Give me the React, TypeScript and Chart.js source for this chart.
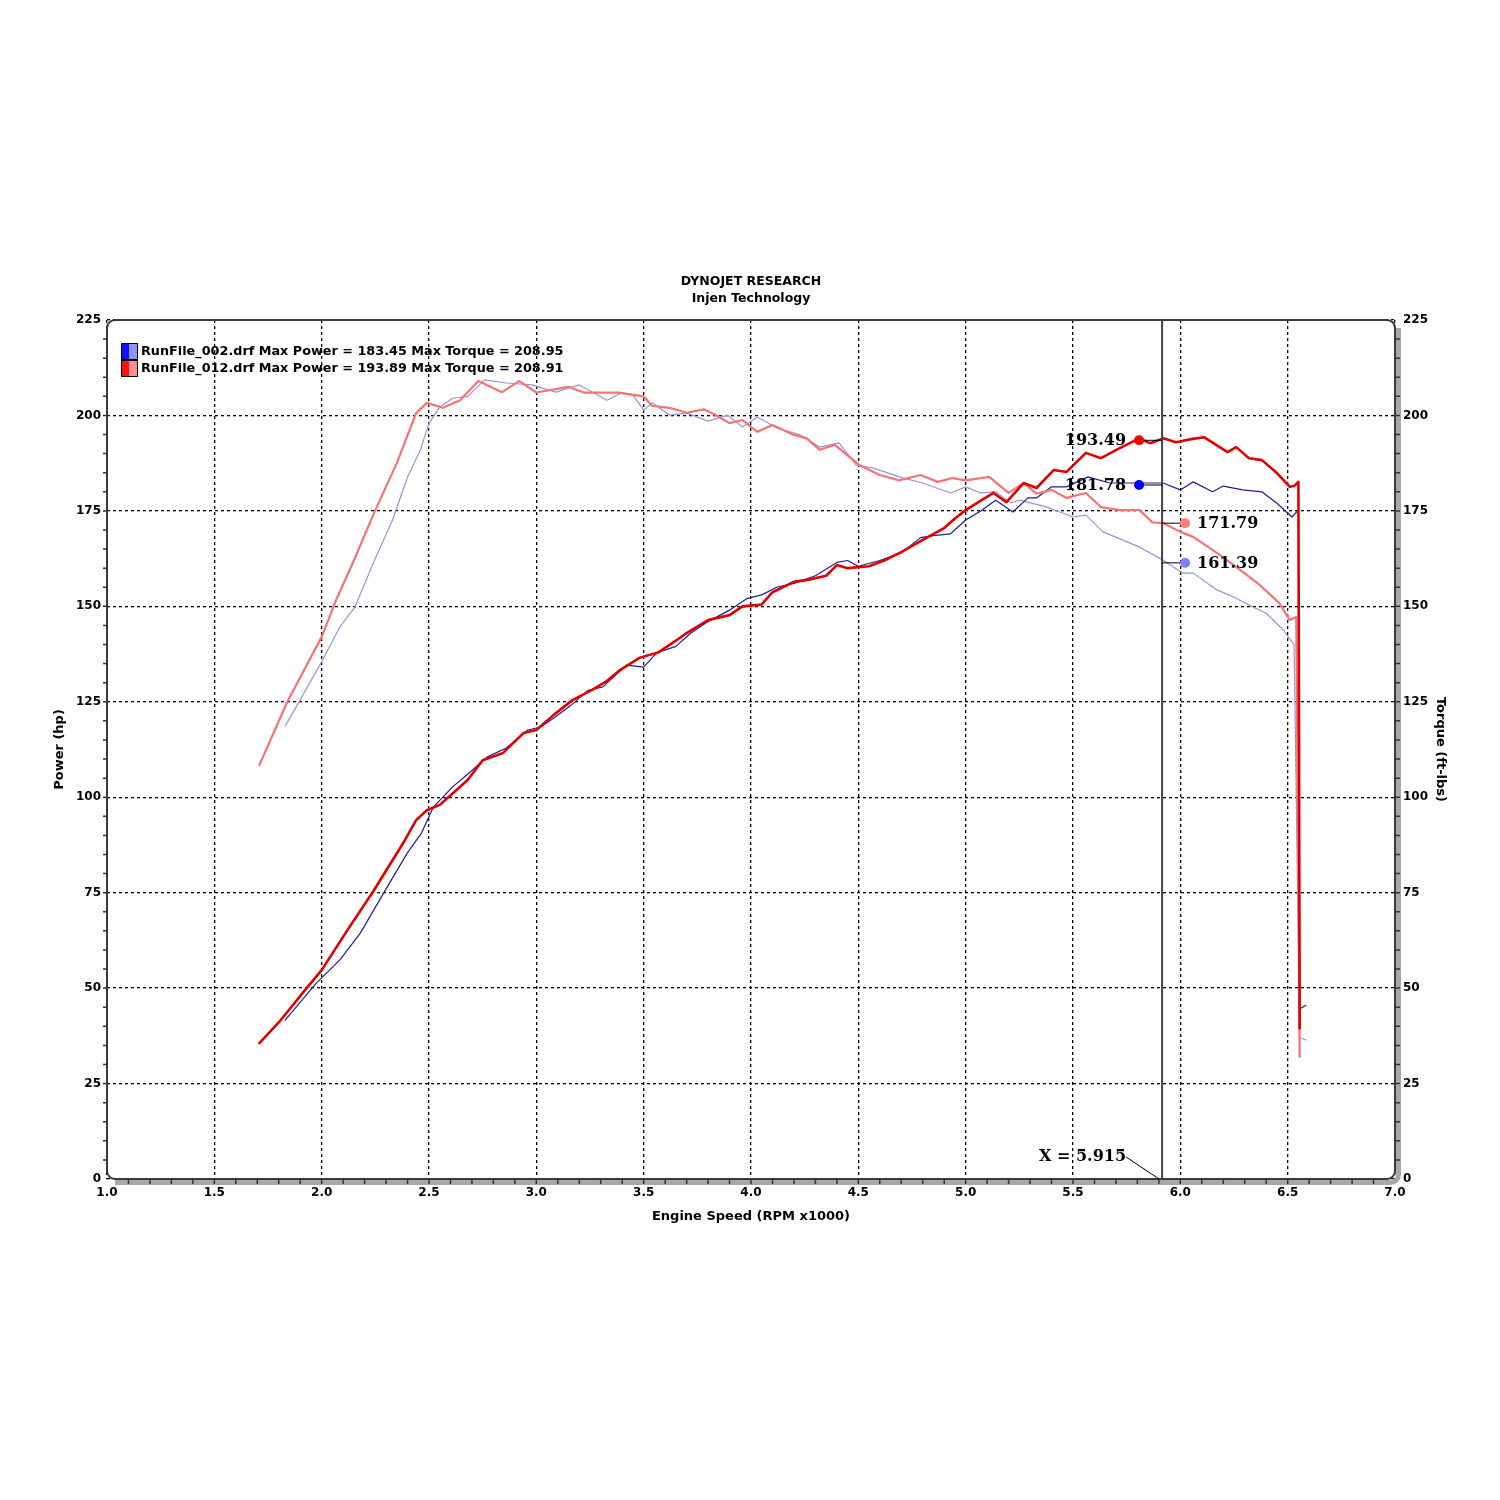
import { useEffect, useRef } from 'react';
import Chart from 'chart.js/auto';

// Run 012 power (hp) - red
const redPowerRpm = [1.71, 1.8, 1.93, 2.0, 2.12, 2.24, 2.38, 2.44, 2.49, 2.55, 2.61, 2.68, 2.75, 2.845, 2.94, 3.0, 3.08, 3.17, 3.26, 3.33, 3.39, 3.48, 3.57, 3.65, 3.7, 3.8, 3.9, 3.96, 4.05, 4.1, 4.2, 4.27, 4.35, 4.4, 4.45, 4.55, 4.62, 4.7, 4.8, 4.9, 4.95, 5.0, 5.08, 5.13, 5.19, 5.27, 5.33, 5.41, 5.47, 5.56, 5.63, 5.72, 5.81, 5.86, 5.92, 5.98, 6.05, 6.11, 6.22, 6.26, 6.32, 6.38, 6.45, 6.51, 6.53, 6.55, 6.556];
const redPowerHp = [35.6, 41, 50, 54.7, 65.2, 75.3, 88, 94, 96.6, 98, 101, 104.5, 109.7, 111.6, 116.8, 117.6, 121.5, 125.5, 128.1, 130.5, 133.3, 136.5, 138, 141, 143, 146.4, 147.7, 150, 150.5, 153.7, 156.4, 157, 158, 160.8, 160, 160.5, 162, 164.2, 167.4, 170.5, 173, 175.2, 178, 179.7, 177.3, 182.3, 181, 185.7, 185.2, 190.2, 188.8, 191.5, 194, 192.7, 194, 193, 193.8, 194.3, 190.4, 191.7, 188.8, 188.3, 184.9, 181.3, 181.5, 182.6, 39.5];

// Run 012 torque (ft-lbs) - pink
const redTorqueRpm = [1.71, 1.84, 2.0, 2.07, 2.15, 2.25, 2.35, 2.44, 2.49, 2.565, 2.645, 2.73, 2.84, 2.92, 3.0, 3.15, 3.22, 3.38, 3.5, 3.54, 3.62, 3.7, 3.78, 3.84, 3.9, 3.96, 4.03, 4.1, 4.2, 4.26, 4.32, 4.39, 4.51, 4.6, 4.69, 4.79, 4.87, 4.94, 5.0, 5.11, 5.2, 5.27, 5.33, 5.4, 5.47, 5.56, 5.63, 5.72, 5.81, 5.87, 5.92, 6.0, 6.06, 6.17, 6.28, 6.37, 6.46, 6.51, 6.54, 6.556];
const redTorqueLb = [108.4, 125, 142, 152, 162, 175.2, 187.5, 200.6, 203.3, 202, 204, 209, 206.1, 209, 206, 207.5, 206, 206, 205, 202.5, 202, 200.7, 201.6, 200, 198, 198.8, 195.7, 197.5, 194.9, 194, 191, 192.3, 186.8, 184.4, 183, 184.4, 182.6, 183.6, 183, 183.9, 179.7, 182.3, 179.5, 180.5, 178.4, 179.7, 176, 175.2, 175.2, 172, 171.8, 169.5, 168.2, 164, 159.5, 155.6, 150.9, 146.4, 147.2, 32];

// Run 002 power (hp) - navy
const bluePowerRpm = [1.83, 1.975, 2.085, 2.18, 2.3, 2.4, 2.465, 2.52, 2.61, 2.68, 2.77, 2.86, 2.96, 3.02, 3.08, 3.16, 3.24, 3.31, 3.42, 3.5, 3.56, 3.65, 3.72, 3.8, 3.9, 3.98, 4.05, 4.12, 4.2, 4.3, 4.4, 4.45, 4.5, 4.6, 4.7, 4.79, 4.85, 4.93, 5.0, 5.07, 5.14, 5.22, 5.29, 5.33, 5.4, 5.47, 5.57, 5.67, 5.81, 5.92, 6.0, 6.06, 6.15, 6.2, 6.29, 6.38, 6.45, 6.52, 6.55, 6.556, 6.585];
const bluePowerHp = [41.6, 51.3, 57.4, 64.4, 76, 85.5, 90.6, 97.4, 102.7, 106, 110.5, 112.9, 117.6, 118.4, 120.7, 124, 128, 128.9, 134.6, 134.1, 137.8, 139.5, 143, 146, 149, 152, 153, 155, 156, 158, 161.5, 162, 160.5, 162, 164, 168, 168.5, 169, 172.6, 175, 177.8, 174.7, 178.4, 178.4, 181.3, 181.3, 183.9, 182.3, 182.3, 182.3, 180.5, 182.6, 180, 181.5, 180.5, 180, 177, 173.4, 175.2, 44.5, 45.5];

// Run 002 torque (ft-lbs) - lavender
const blueTorqueRpm = [1.83, 1.9, 2.0, 2.085, 2.155, 2.24, 2.33, 2.4, 2.46, 2.5, 2.55, 2.61, 2.68, 2.76, 2.86, 2.98, 3.09, 3.2, 3.33, 3.4, 3.45, 3.5, 3.54, 3.62, 3.7, 3.8, 3.89, 3.96, 4.03, 4.12, 4.23, 4.32, 4.41, 4.49, 4.57, 4.71, 4.8, 4.93, 5.0, 5.07, 5.14, 5.21, 5.25, 5.38, 5.5, 5.56, 5.64, 5.73, 5.81, 5.92, 6.01, 6.06, 6.17, 6.25, 6.34, 6.4, 6.48, 6.53, 6.556, 6.585];
const blueTorqueLb = [118.7, 125.5, 135.5, 144.6, 149.8, 161.3, 172.6, 183.9, 191, 198, 202.2, 204.5, 205, 209.3, 208.5, 208, 206.1, 208, 204, 206, 205.4, 201.4, 203.3, 200.1, 200.6, 198.5, 200.1, 197, 199.6, 196.7, 194.9, 191.7, 192.8, 187, 186.2, 183.6, 182.3, 179.7, 181.3, 179.7, 180, 177.1, 177.8, 176, 173.4, 173.9, 169.5, 167.4, 165.5, 162.1, 158.7, 158.7, 154.3, 152.4, 149.8, 148.2, 143.8, 139.9, 37, 36.4];

// Cursor readout
const cursorRpm = 5.915;
const cursorLabel = 'X = 5.915';
const leftReadouts = ['193.49', '181.78'];
const rightReadouts = ['171.79', '161.39'];

const legendLines = [
  'RunFile_002.drf Max Power = 183.45 Max Torque = 208.95',
  'RunFile_012.drf Max Power = 193.89 Max Torque = 208.91',
];
const titleLines = ['DYNOJET RESEARCH', 'Injen Technology'];

const FONT = "'DejaVu Sans', Verdana, sans-serif";
const SERIF = "'DejaVu Serif', serif";

const toPoints = (xs: number[], ys: number[]) => xs.map((x, i) => ({ x, y: ys[i] }));

const dynoPlugin = {
  id: 'dyno',
  afterDraw(chart: any) {
    const { ctx, chartArea, scales } = chart;
    const { left, right, top, bottom } = chartArea;
    const xs = scales.x;
    const ys = scales.y;
    ctx.save();

    // title
    ctx.fillStyle = '#000';
    ctx.font = `bold 12.5px ${FONT}`;
    ctx.textAlign = 'center';
    ctx.textBaseline = 'middle';
    ctx.fillText(titleLines[0], (left + right) / 2, 282);
    ctx.fillText(titleLines[1], (left + right) / 2, 299);

    // cursor line
    const cx = xs.getPixelForValue(cursorRpm);
    ctx.strokeStyle = '#444';
    ctx.lineWidth = 2;
    ctx.beginPath();
    ctx.moveTo(cx, top);
    ctx.lineTo(cx, bottom);
    ctx.stroke();

    // frame: gray shadow band on right / bottom
    const r = 8;
    ctx.strokeStyle = '#a8a8a8';
    ctx.lineWidth = 5;
    ctx.beginPath();
    ctx.moveTo(right + 3.5, top + r);
    ctx.lineTo(right + 3.5, bottom - r + 3);
    ctx.arcTo(right + 3.5, bottom + 3.5, right - r + 3, bottom + 3.5, r);
    ctx.lineTo(left + r, bottom + 3.5);
    ctx.stroke();

    ctx.strokeStyle = '#3a3a3a';
    ctx.lineWidth = 2;
    ctx.beginPath();
    ctx.roundRect(left, top, right - left, bottom - top, r);
    ctx.stroke();

    // minor ticks
    ctx.lineWidth = 1.5;
    ctx.strokeStyle = '#333';
    ctx.beginPath();
    for (let i = 1; i < 60; i++) {
      const px = xs.getPixelForValue(1 + i * 0.1);
      ctx.moveTo(px, bottom);
      ctx.lineTo(px, bottom + 5);
    }
    for (let i = 1; i < 45; i++) {
      const py = ys.getPixelForValue(i * 5);
      ctx.moveTo(left, py);
      ctx.lineTo(left - 4, py);
      ctx.moveTo(right, py);
      ctx.lineTo(right + 5, py);
    }
    ctx.stroke();

    // legend
    const swatches = [
      ['#1010ff', '#9090ff'],
      ['#ff1010', '#ff9090'],
    ];
    swatches.forEach((c, i) => {
      const y0 = 343 + i * 17;
      ctx.fillStyle = c[0];
      ctx.fillRect(121, y0, 8, 17);
      ctx.fillStyle = c[1];
      ctx.fillRect(129, y0, 8, 17);
      ctx.strokeStyle = '#000';
      ctx.lineWidth = 1;
      ctx.strokeRect(121.5, y0 + 0.5, 16, 16);
    });
    ctx.fillStyle = '#000';
    ctx.font = `bold 12.8px ${FONT}`;
    ctx.textAlign = 'left';
    legendLines.forEach((t, i) => ctx.fillText(t, 141, 352 + i * 17));

    // cursor readouts
    ctx.font = `bold 16px ${SERIF}`;
    const leftColors = ['#ff0000', '#0000ff'];
    const rightColors = ['#ff8080', '#8080ff'];
    leftReadouts.forEach((v, i) => {
      const py = ys.getPixelForValue(parseFloat(v));
      ctx.strokeStyle = '#000';
      ctx.lineWidth = 1;
      ctx.beginPath();
      ctx.moveTo(cx - 22, py);
      ctx.lineTo(cx, py);
      ctx.stroke();
      ctx.fillStyle = leftColors[i];
      ctx.beginPath();
      ctx.arc(cx - 23, py, 5, 0, Math.PI * 2);
      ctx.fill();
      ctx.fillStyle = '#000';
      ctx.textAlign = 'right';
      ctx.fillText(v, cx - 36, py + 1);
    });
    rightReadouts.forEach((v, i) => {
      const py = ys.getPixelForValue(parseFloat(v));
      ctx.strokeStyle = '#000';
      ctx.lineWidth = 1;
      ctx.beginPath();
      ctx.moveTo(cx, py);
      ctx.lineTo(cx + 22, py);
      ctx.stroke();
      ctx.fillStyle = rightColors[i];
      ctx.beginPath();
      ctx.arc(cx + 23, py, 5, 0, Math.PI * 2);
      ctx.fill();
      ctx.fillStyle = '#000';
      ctx.textAlign = 'left';
      ctx.fillText(v, cx + 35, py + 1);
    });

    // X = readout at bottom
    ctx.textAlign = 'right';
    ctx.fillText(cursorLabel, cx - 36, bottom - 22);
    ctx.strokeStyle = '#000';
    ctx.lineWidth = 1;
    ctx.beginPath();
    ctx.moveTo(cx - 36, bottom - 22);
    ctx.lineTo(cx - 3, bottom);
    ctx.stroke();

    ctx.restore();
  },
};

const tickFont = { family: FONT, weight: 'bold' as const, size: 12 };
const titleFont = { family: FONT, weight: 'bold' as const, size: 13 };

export default function App() {
  const chartRef = useRef<HTMLCanvasElement>(null);

  useEffect(() => {
    if (!chartRef.current) return;
    const chart = new Chart(chartRef.current, {
      type: 'line',
      data: {
        datasets: [
          {
            label: 'RunFile_012 Power',
            data: toPoints(redPowerRpm, redPowerHp),
            borderColor: 'rgb(225, 0, 0)',
            borderWidth: 2.6,
            yAxisID: 'y',
          },
          {
            label: 'RunFile_012 Torque',
            data: toPoints(redTorqueRpm, redTorqueLb),
            borderColor: 'rgb(246, 115, 115)',
            borderWidth: 2.2,
            yAxisID: 'y1',
          },
          {
            label: 'RunFile_002 Power',
            data: toPoints(bluePowerRpm, bluePowerHp),
            borderColor: 'rgb(30, 30, 150)',
            borderWidth: 1.2,
            yAxisID: 'y',
          },
          {
            label: 'RunFile_002 Torque',
            data: toPoints(blueTorqueRpm, blueTorqueLb),
            borderColor: 'rgb(150, 150, 215)',
            borderWidth: 1.2,
            yAxisID: 'y1',
          },
        ],
      },
      options: {
        responsive: false,
        animation: false,
        devicePixelRatio: 1,
        layout: { padding: { top: 320, left: 0, right: 0, bottom: 0 } },
        elements: {
          point: { radius: 0 },
          line: { tension: 0, borderJoinStyle: 'round', borderCapStyle: 'round' },
        },
        plugins: {
          legend: { display: false },
          title: { display: false },
          tooltip: { enabled: false },
        },
        scales: {
          x: {
            type: 'linear',
            min: 1,
            max: 7,
            afterFit: (s: any) => {
              s.height = 321;
            },
            ticks: {
              stepSize: 0.5,
              color: '#000',
              font: tickFont,
              padding: 7,
              maxRotation: 0,
              callback: (v: any) => Number(v).toFixed(1),
            },
            grid: { color: '#000', lineWidth: 1.3, drawTicks: false },
            border: { display: false, dash: [3, 3] },
            title: {
              display: true,
              text: 'Engine Speed (RPM x1000)',
              color: '#000',
              font: titleFont,
              padding: { top: 0, bottom: 276 },
            },
          },
          y: {
            type: 'linear',
            position: 'left',
            min: 0,
            max: 225,
            afterFit: (s: any) => {
              s.width = 107;
            },
            ticks: { stepSize: 25, color: '#000', font: tickFont, padding: 6 },
            grid: { color: '#000', lineWidth: 1.3, drawTicks: false },
            border: { display: false, dash: [3, 3] },
            title: {
              display: true,
              text: 'Power (hp)',
              color: '#000',
              font: titleFont,
              padding: { top: 52, bottom: 0 },
            },
          },
          y1: {
            type: 'linear',
            position: 'right',
            min: 0,
            max: 225,
            afterFit: (s: any) => {
              s.width = 105;
            },
            ticks: { stepSize: 25, color: '#000', font: tickFont, padding: 8 },
            grid: { display: false, drawTicks: false },
            border: { display: false },
            title: {
              display: true,
              text: 'Torque (ft-lbs)',
              color: '#000',
              font: titleFont,
              padding: { top: 52, bottom: 0 },
            },
          },
        },
      },
      plugins: [dynoPlugin],
    });
    return () => chart.destroy();
  }, []);

  return (
    <div style={{ position: 'absolute', left: 0, top: 0, width: 1500, height: 1500, background: '#fff' }}>
      <canvas ref={chartRef} width={1500} height={1500} style={{ display: 'block' }} />
    </div>
  );
}
